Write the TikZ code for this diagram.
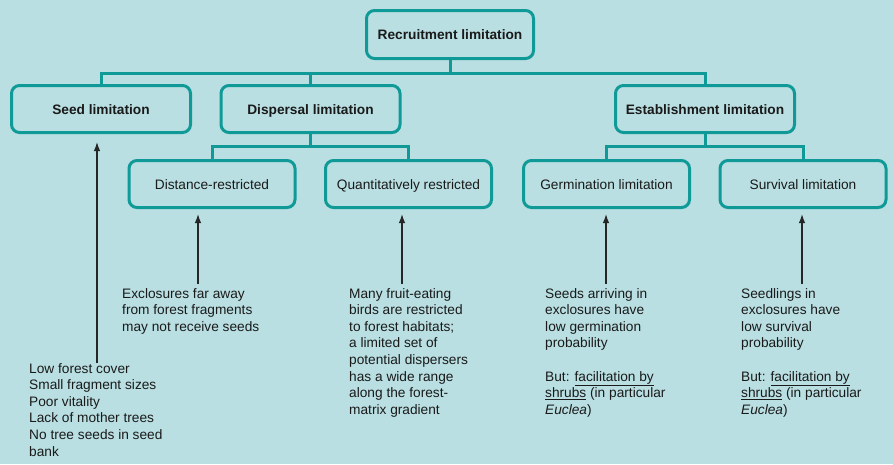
\documentclass[tikz,border=0pt]{standalone}
\usepackage{fontspec}
\setmainfont{Liberation Sans}
\usetikzlibrary{arrows.meta}

\definecolor{bgcol}{HTML}{B9DFE2}
\definecolor{tealcol}{HTML}{109A97}
\definecolor{inkcol}{HTML}{1A1A1A}

\begin{document}
\begin{tikzpicture}[x=1pt, y=-1pt,
    box/.style={draw=tealcol, line width=3pt, rounded corners=8pt, fill=bgcol,
      text=inkcol, font=\fontsize{13.7}{16.6}\selectfont, minimum height=47pt,
      text height=10.5pt, text depth=-1pt},
    mainbox/.style={box, minimum width=179pt, font=\fontsize{13.7}{16.6}\selectfont\bfseries},
    subbox/.style={box, minimum width=166pt},
    note/.style={anchor=north west, inner sep=0pt, align=left, text=inkcol,
      font=\fontsize{13.7}{16.6}\selectfont},
    link/.style={draw=tealcol, line width=3pt},
    arr/.style={-{Latex[length=9pt,width=6.5pt]}, line width=1.3pt, black!85}]

    % Background
    \fill[bgcol] (0,0) rectangle (893,464);

    % Top level
    \node[mainbox, minimum width=167pt, minimum height=48pt] (rec) at (450,34.5) {Recruitment limitation};

    % Second level
    \node[mainbox] (seed) at (101,109) {Seed limitation};
    \node[mainbox] (disp) at (310.5,109) {Dispersal limitation};
    \node[mainbox] (est) at (705,109) {Establishment limitation};

    % Third level
    \node[subbox] (dist) at (212,184) {Distance-restricted};
    \node[subbox] (quant) at (408.5,184) {Quantitatively restricted};
    \node[subbox] (germ) at (606.5,184) {Germination limitation};
    \node[subbox] (surv) at (803,184) {Survival limitation};

    % Tree connectors
    \draw[link] (rec.south) -- ++(0,13) coordinate (j1);
    \draw[link] (seed.north) |- (j1) -| (est.north);
    \draw[link] (disp.north) -- (disp.north |- j1);
    \draw[link] (disp.south) -- ++(0,12) coordinate (j2);
    \draw[link] (dist.north) |- (j2) -| (quant.north);
    \draw[link] (est.south) -- ++(0,12) coordinate (j3);
    \draw[link] (germ.north) |- (j3) -| (surv.north);

    % Explanations
    \node[note] (seedtxt) at (29,363) {Low forest cover\\Small fragment sizes\\Poor vitality\\Lack of mother trees\\No tree seeds in seed\\bank};
    \node[note] (disttxt) at (122,288) {Exclosures far away\\from forest fragments\\may not receive seeds};
    \node[note] (quanttxt) at (349,288) {Many fruit-eating\\birds are restricted\\to forest habitats;\\a limited set of\\potential dispersers\\has a wide range\\along the forest-\\matrix gradient};
    \node[note] (germtxt) at (545,288) {Seeds arriving in\\exclosures have\\low germination\\probability\\[16.6pt]But: \underline{facilitation by}\\\underline{shrubs} (in particular\\\textit{Euclea})};
    \node[note] (survtxt) at (741,288) {Seedlings in\\exclosures have\\low survival\\probability\\[16.6pt]But: \underline{facilitation by}\\\underline{shrubs} (in particular\\\textit{Euclea})};

    % Arrows from explanations up to the boxes
    \coordinate (seedtip) at ([xshift=-4pt,yshift=-8pt]seed.south);
    \coordinate (disttip) at ([xshift=-14pt,yshift=-5pt]dist.south);
    \coordinate (quanttip) at ([xshift=-6.5pt,yshift=-5pt]quant.south);
    \coordinate (germtip) at ([xshift=-0.5pt,yshift=-5pt]germ.south);
    \coordinate (survtip) at ([xshift=-1pt,yshift=-5pt]surv.south);
    \draw[arr] (seedtip |- seedtxt.north) -- (seedtip);
    \draw[arr, shorten <=4pt] (disttip |- disttxt.north) -- (disttip);
    \draw[arr, shorten <=4pt] (quanttip |- quanttxt.north) -- (quanttip);
    \draw[arr, shorten <=4pt] (germtip |- germtxt.north) -- (germtip);
    \draw[arr, shorten <=4pt] (survtip |- survtxt.north) -- (survtip);
\end{tikzpicture}
\end{document}
